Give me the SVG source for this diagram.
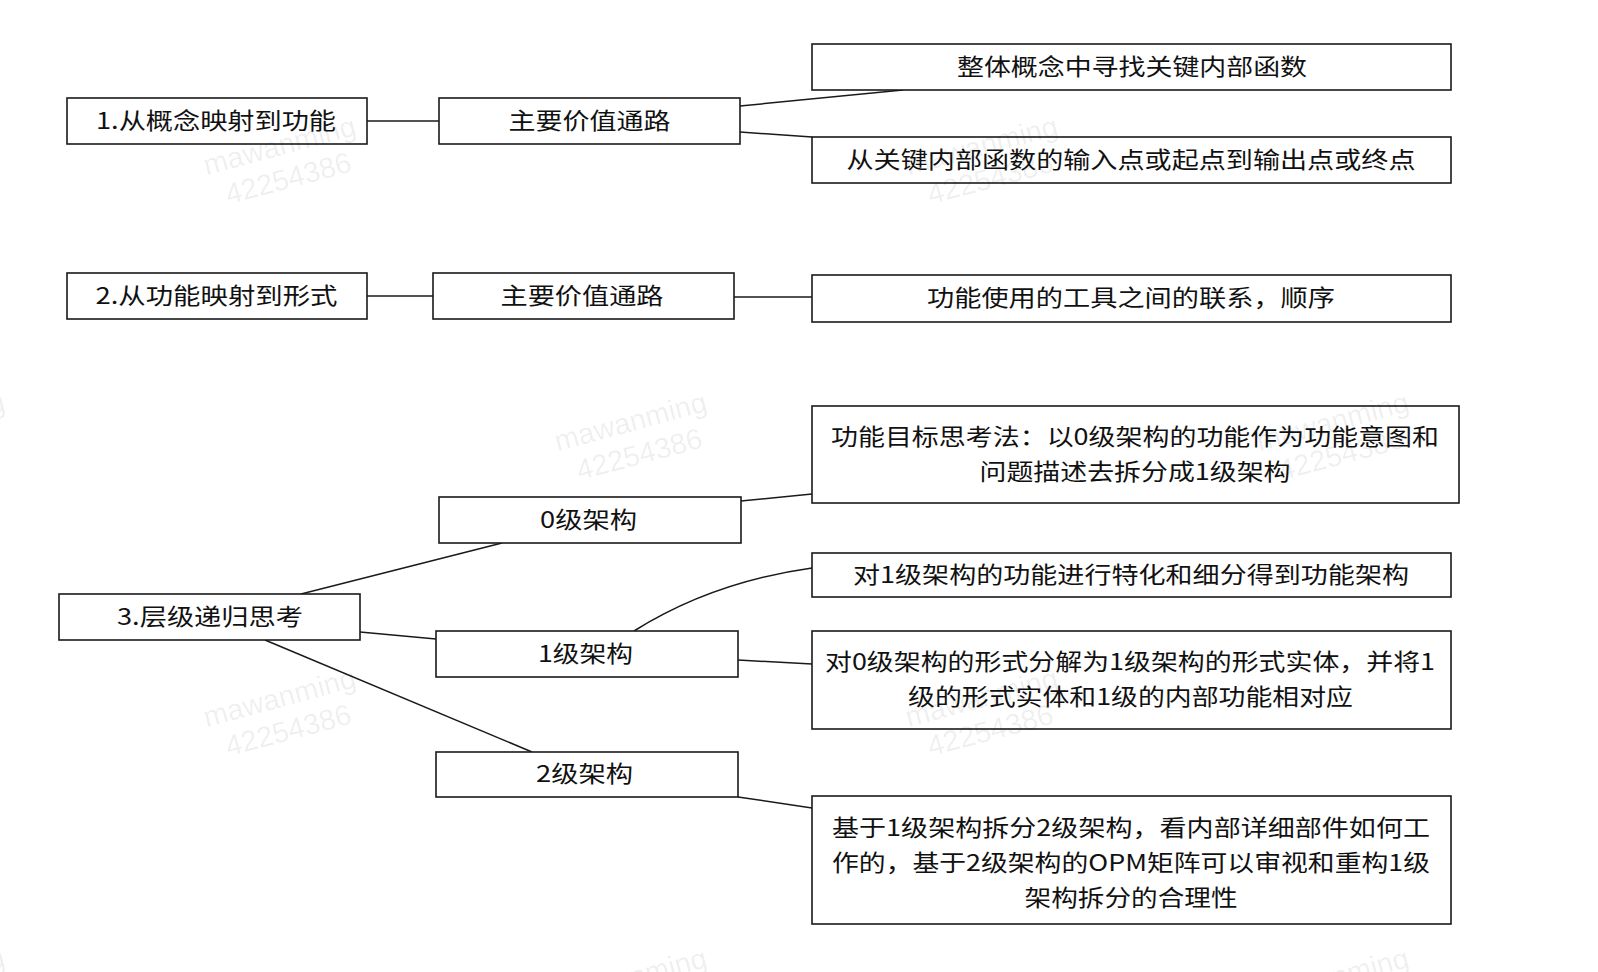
<svg xmlns="http://www.w3.org/2000/svg" xmlns:xlink="http://www.w3.org/1999/xlink" width="1598" height="972" viewBox="0 0 1598 972">
<style>
.box{fill:#fff;stroke:#1a1a1a;stroke-width:1.6}
.lbl{font-family:"Noto Sans CJK SC","Liberation Sans",sans-serif;font-size:23px;fill:#111;text-anchor:middle;dominant-baseline:central}
.edge{fill:none;stroke:#1a1a1a;stroke-width:1.5}
.wm{font-family:"Liberation Sans","DejaVu Sans",sans-serif;font-size:29px;fill:#000;fill-opacity:0.07;text-anchor:middle}
</style>
<defs>
<g id="wm">
<g transform="rotate(-15)">
<text class="wm" x="0" y="0">mawanming</text>
<text class="wm" x="0" y="34">42254386</text>
</g>
</g>
</defs>
<rect x="0" y="0" width="1598" height="972" fill="#fff"/>
<g id="connectors">
<line class="edge" x1="367" y1="121" x2="439" y2="121"/>
<line class="edge" x1="740" y1="106" x2="903" y2="90"/>
<line class="edge" x1="740" y1="132" x2="812" y2="137"/>
<line class="edge" x1="367" y1="296" x2="433" y2="296"/>
<line class="edge" x1="734" y1="297" x2="812" y2="297"/>
<line class="edge" x1="301" y1="594" x2="502" y2="543"/>
<line class="edge" x1="360" y1="632" x2="436" y2="639"/>
<line class="edge" x1="265" y1="640" x2="532" y2="752"/>
<line class="edge" x1="741" y1="501" x2="812" y2="494"/>
<path class="edge" d="M634,631 Q712,582 812,568"/>
<line class="edge" x1="738" y1="660" x2="812" y2="664"/>
<line class="edge" x1="738" y1="797" x2="812" y2="808"/>
</g>
<g id="n1"><rect class="box" x="67" y="98" width="300" height="46"/><text class="lbl" x="216" y="119" textLength="240" lengthAdjust="spacingAndGlyphs">1.从概念映射到功能</text></g>
<g id="n2"><rect class="box" x="439" y="98" width="301" height="46"/><text class="lbl" x="589.5" y="119" textLength="162" lengthAdjust="spacingAndGlyphs">主要价值通路</text></g>
<g id="n3"><rect class="box" x="812" y="44" width="639" height="46"/><text class="lbl" x="1132" y="65" textLength="350" lengthAdjust="spacingAndGlyphs">整体概念中寻找关键内部函数</text></g>
<g id="n4"><rect class="box" x="812" y="137" width="639" height="46"/><text class="lbl" x="1131" y="158" textLength="569" lengthAdjust="spacingAndGlyphs">从关键内部函数的输入点或起点到输出点或终点</text></g>
<g id="n5"><rect class="box" x="67" y="273" width="300" height="46"/><text class="lbl" x="216.5" y="294" textLength="242" lengthAdjust="spacingAndGlyphs">2.从功能映射到形式</text></g>
<g id="n6"><rect class="box" x="433" y="273" width="301" height="46"/><text class="lbl" x="582" y="294" textLength="163" lengthAdjust="spacingAndGlyphs">主要价值通路</text></g>
<g id="n7"><rect class="box" x="812" y="275" width="639" height="47"/><text class="lbl" x="1131" y="296" textLength="408" lengthAdjust="spacingAndGlyphs">功能使用的工具之间的联系，顺序</text></g>
<g id="n8"><rect class="box" x="59" y="594" width="301" height="46"/><text class="lbl" x="210" y="615" textLength="186" lengthAdjust="spacingAndGlyphs">3.层级递归思考</text></g>
<g id="n9"><rect class="box" x="439" y="497" width="302" height="46"/><text class="lbl" x="588.5" y="518" textLength="97" lengthAdjust="spacingAndGlyphs">0级架构</text></g>
<g id="n10"><rect class="box" x="436" y="631" width="302" height="46"/><text class="lbl" x="585.5" y="652" textLength="95" lengthAdjust="spacingAndGlyphs">1级架构</text></g>
<g id="n11"><rect class="box" x="436" y="752" width="302" height="45"/><text class="lbl" x="584.5" y="772" textLength="97" lengthAdjust="spacingAndGlyphs">2级架构</text></g>
<g id="n12"><rect class="box" x="812" y="406" width="647" height="97"/><text class="lbl" x="1135" y="435" textLength="608" lengthAdjust="spacingAndGlyphs">功能目标思考法：以0级架构的功能作为功能意图和</text><text class="lbl" x="1135" y="470" textLength="311" lengthAdjust="spacingAndGlyphs">问题描述去拆分成1级架构</text></g>
<g id="n13"><rect class="box" x="812" y="553" width="639" height="44"/><text class="lbl" x="1131" y="573" textLength="556" lengthAdjust="spacingAndGlyphs">对1级架构的功能进行特化和细分得到功能架构</text></g>
<g id="n14"><rect class="box" x="812" y="631" width="639" height="98"/><text class="lbl" x="1130" y="660" textLength="610" lengthAdjust="spacingAndGlyphs">对0级架构的形式分解为1级架构的形式实体，并将1</text><text class="lbl" x="1130.5" y="695" textLength="445" lengthAdjust="spacingAndGlyphs">级的形式实体和1级的内部功能相对应</text></g>
<g id="n15"><rect class="box" x="812" y="796" width="639" height="128"/><text class="lbl" x="1131" y="826" textLength="598" lengthAdjust="spacingAndGlyphs">基于1级架构拆分2级架构，看内部详细部件如何工</text><text class="lbl" x="1131" y="861" textLength="598" lengthAdjust="spacingAndGlyphs">作的，基于2级架构的OPM矩阵可以审视和重构1级</text><text class="lbl" x="1131" y="896" textLength="213" lengthAdjust="spacingAndGlyphs">架构拆分的合理性</text></g>
<g id="watermarks">
<use xlink:href="#wm" x="282" y="155"/>
<use xlink:href="#wm" x="984" y="155"/>
<use xlink:href="#wm" x="633" y="431"/>
<use xlink:href="#wm" x="1335" y="431"/>
<use xlink:href="#wm" x="-69" y="431"/>
<use xlink:href="#wm" x="282" y="707"/>
<use xlink:href="#wm" x="984" y="707"/>
<use xlink:href="#wm" x="633" y="987"/>
<use xlink:href="#wm" x="1335" y="987"/>
<use xlink:href="#wm" x="-69" y="987"/>
</g>
</svg>
